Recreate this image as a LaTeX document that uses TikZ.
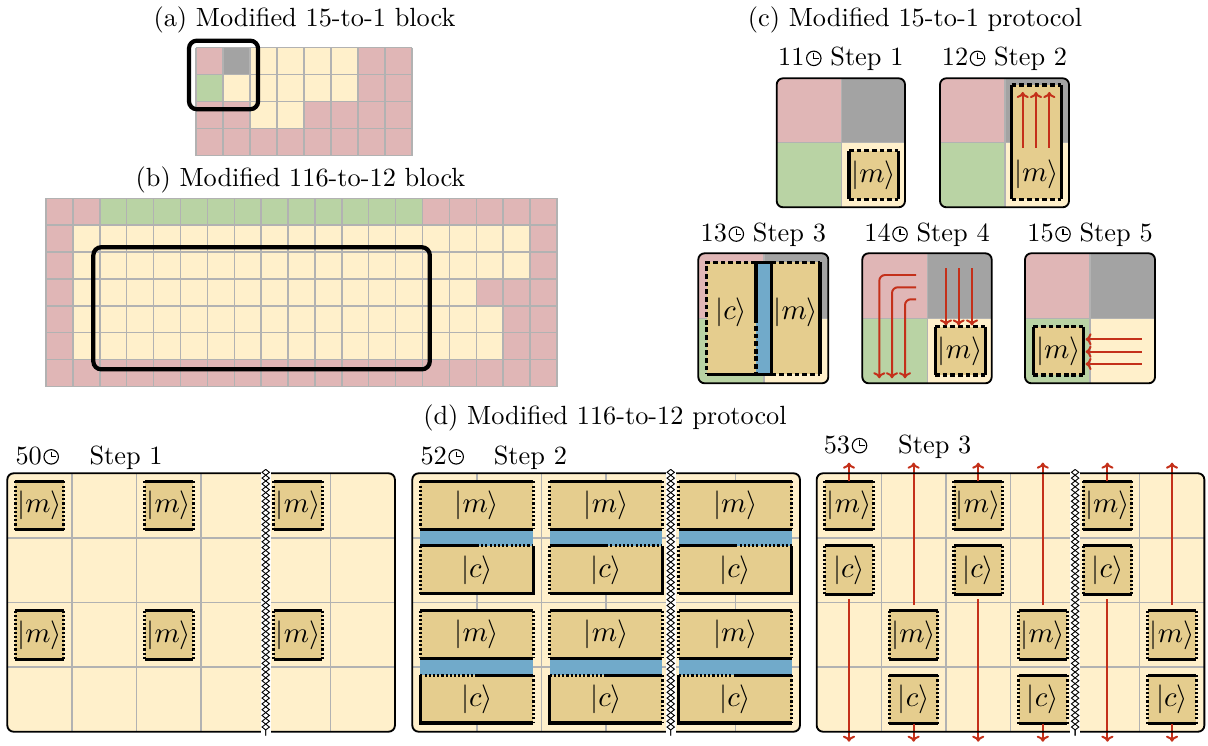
\documentclass[tikz,border=0pt]{standalone}
\usetikzlibrary{arrows.meta,decorations.pathmorphing}
\definecolor{pinkc}{RGB}{224,182,182}
\definecolor{grayc}{RGB}{163,163,163}
\definecolor{yelc}{RGB}{255,240,203}
\definecolor{greenc}{RGB}{185,211,164}
\definecolor{tanc}{RGB}{229,205,142}
\definecolor{bluec}{RGB}{113,170,202}
\definecolor{redc}{RGB}{196,48,26}
\definecolor{gridc}{RGB}{178,178,178}
\newcommand{\clk}{\tikz[baseline=0pt,x=1pt,y=1pt]{\draw[line width=0.42pt] (0pt,2.9pt) circle[radius=2.75pt]; \draw[line width=0.42pt] (0pt,4.9pt)--(0pt,2.9pt)--(1.95pt,2.9pt);}}
\newcommand{\quads}[6]{%
  \begin{scope}
  \clip[rounded corners=2.4pt] (#1,#2) rectangle (#3,#4);
  \fill[pinkc] (#1,#2) rectangle (#5,#6);
  \fill[grayc] (#5,#2) rectangle (#3,#6);
  \fill[greenc] (#1,#6) rectangle (#5,#4);
  \fill[yelc] (#5,#6) rectangle (#3,#4);
  \draw[gridl] (#5,#2)--(#5,#4) (#1,#6)--(#3,#6);
  \end{scope}}
\newcommand{\ckbox}[4]{%
  \fill[tanc] (#1,#2) rectangle (#3,#4);
  \draw[dedge] (#1,#2)--(#3,#2) (#1,#4)--(#3,#4);
  \draw[sedge] (#1,#2)--(#1,#4) (#3,#2)--(#3,#4);}
\newcommand{\dkbox}[4]{%
  \fill[tanc] (#1+0.125,#2+0.125) rectangle (#1+0.875,#2+0.875);
  \draw[sedge] (#1+0.125,#2+0.125)--(#1+0.875,#2+0.125) (#1+0.125,#2+0.875)--(#1+0.875,#2+0.875);
  \draw[oedge] (#1+0.125,#2+0.125)--(#1+0.125,#2+0.875) (#1+0.875,#2+0.125)--(#1+0.875,#2+0.875);
  \node[ket] (#4) at (#1+0.5,#2+0.5) {$|#3\rangle$};}
\newcommand{\grpcommon}[3]{%
  \fill[tanc] (#1+0.125,#2+0.125) rectangle (#1+1.87,#2+0.865);
  \fill[bluec] (#1+0.125,#2+0.865) rectangle (#1+1.87,#2+1.125);
  \fill[tanc] (#1+0.125,#2+1.125) rectangle (#1+1.87,#2+1.865);
  \draw[sedge] (#1+0.125,#2+0.125)--(#1+1.87,#2+0.125);
  \draw[oedge] (#1+0.125,#2+0.125)--(#1+0.125,#2+0.865) (#1+1.87,#2+0.125)--(#1+1.87,#2+0.865);
  \draw[sedge] (#1+0.125,#2+0.865)--(#1+1.87,#2+0.865);
  \node[ket] (#3m) at (#1+1,#2+0.495) {$|m\rangle$};
  \node[ket] (#3c) at (#1+1,#2+1.495) {$|c\rangle$};}
\newcommand{\grpT}[3]{%
  \grpcommon{#1}{#2}{#3}
  \draw[sedge] (#1+0.125,#2+1.125)--(#1+1,#2+1.125);
  \draw[oedge] (#1+1,#2+1.125)--(#1+1.87,#2+1.125);
  \draw[oedge] (#1+0.125,#2+1.125)--(#1+0.125,#2+1.865);
  \draw[sedge] (#1+1.87,#2+1.125)--(#1+1.87,#2+1.865)--(#1+0.125,#2+1.865);}
\newcommand{\grpB}[3]{%
  \grpcommon{#1}{#2}{#3}
  \draw[oedge] (#1+0.125,#2+1.125)--(#1+1,#2+1.125);
  \draw[sedge] (#1+1,#2+1.125)--(#1+1.87,#2+1.125);
  \draw[sedge] (#1+0.125,#2+1.125)--(#1+0.125,#2+1.865)--(#1+1.87,#2+1.865);
  \draw[oedge] (#1+1.87,#2+1.125)--(#1+1.87,#2+1.865);}
\newcommand{\panelbg}{%
  \fill[yelc,rounded corners=2.4pt] (0,0) rectangle (6,4);
  \foreach \i in {1,...,5} \draw[gridl] (\i,0)--(\i,4);
  \foreach \j in {1,2,3} \draw[gridl] (0,\j)--(6,\j);}
\newcommand{\brk}{%
  \fill[white] (3.925,-0.06) rectangle (4.075,4.06);
  \draw[zz] (4,-0.06)--(4,4.06);
  \draw[zz,decoration={mirror}] (4,-0.06)--(4,4.06);}
\begin{document}
\begin{tikzpicture}[x=0.38pt,y=-0.38pt,
  gridl/.style={draw=gridc,line width=0.55pt},
  frame/.style={draw=black,line width=0.7pt,rounded corners=2.4pt},
  bigbox/.style={draw=black,line width=1.6pt,rounded corners=3pt},
  sedge/.style={draw=black,line width=1.15pt},
  dedge/.style={draw=black,line width=1.15pt,dash pattern=on 1.8pt off 1.1pt},
  oedge/.style={draw=black,line width=1.15pt,dash pattern=on 0.8pt off 0.8pt},
  rarr/.style={draw=redc,line width=0.75pt,-{To[length=2.3pt,width=4.6pt]}},
  ket/.style={inner sep=0pt,font=\fontsize{11}{13}\selectfont},
  lbl/.style={inner sep=0pt},
  zz/.style={draw=black,line width=0.35pt,decorate,decoration={zigzag,segment length=4.4pt,amplitude=1.4pt}}]
\useasboundingbox (0,0) rectangle (1208,746);

% ---------- titles
\node[lbl,anchor=base] (ta) at (304.5,27) {(a) Modified 15-to-1 block};
\node[lbl,anchor=base] (tb) at (300.5,187) {(b) Modified 116-to-12 block};
\node[lbl,anchor=base] (tc) at (915,27) {(c) Modified 15-to-1 protocol};
\node[lbl,anchor=base] (td) at (605,425) {(d) Modified 116-to-12 protocol};

% ---------- (a) block
\begin{scope}[shift={(196,47.7)},x=10.26pt,y=-10.26pt]
  \fill[pinkc] (0,0) rectangle (8,4);
  \fill[grayc] (1,0) rectangle (2,1);
  \fill[greenc] (0,1) rectangle (1,2);
  \fill[yelc] (2,0) rectangle (6,1) (1,1) rectangle (6,2) (2,2) rectangle (4,3);
  \foreach \i in {0,...,8} \draw[gridl] (\i,0)--(\i,4);
  \foreach \j in {0,...,4} \draw[gridl] (0,\j)--(8,\j);
  \draw[bigbox] (-0.26,-0.26) rectangle (2.3,2.28);
\end{scope}

% ---------- (b) block
\begin{scope}[shift={(46,198.3)},x=10.22pt,y=-10.22pt]
  \fill[pinkc] (0,0) rectangle (19,7);
  \fill[greenc] (2,0) rectangle (14,1);
  \fill[yelc] (1,1) rectangle (18,3) (1,3) rectangle (16,4) (1,4) rectangle (17,6);
  \foreach \i in {0,...,19} \draw[gridl] (\i,0)--(\i,7);
  \foreach \j in {0,...,7} \draw[gridl] (0,\j)--(19,\j);
  \draw[bigbox] (1.76,1.82) rectangle (14.27,6.36);
\end{scope}

% ---------- (c) step 1
\quads{776.7}{78.3}{905}{207.3}{841.7}{142.7}
\ckbox{849}{150.7}{898.3}{199.3}
\node[ket] (c1m) at (873.7,175) {$|m\rangle$};
\draw[frame] (776.7,78.3) rectangle (905,207.3);
\node[lbl,anchor=base] (c1l) at (840.8,66) {11\kern0.6pt\clk\ Step 1};

% ---------- (c) step 2
\quads{940}{78.3}{1069}{207.3}{1005}{142.7}
\ckbox{1011.7}{85}{1061}{199.3}
\node[ket] (c2m) at (1036.3,174) {$|m\rangle$};
\draw[rarr] (1022.7,148)--(1022.7,92);
\draw[rarr] (1036,148)--(1036,92);
\draw[rarr] (1049.3,148)--(1049.3,92);
\draw[frame] (940,78.3) rectangle (1069,207.3);
\node[lbl,anchor=base] (c2l) at (1004.5,66) {12\kern0.6pt\clk\ Step 2};

% ---------- (c) step 3
\quads{698.3}{253.3}{828.3}{383.3}{764}{318.3}
\fill[tanc] (706.7,262.3) rectangle (756,374.3);
\fill[bluec] (756,262.3) rectangle (771.7,374.3);
\fill[tanc] (771.7,262.3) rectangle (820,374.3);
\draw[dedge] (756,262.3)--(706.7,262.3)--(706.7,374.3);
\draw[sedge] (706.7,374.3)--(771.7,374.3);
\draw[sedge] (756,318.3)--(756,262.3)--(771.7,262.3);
\draw[dedge] (756,318.3)--(756,374.3);
\draw[sedge] (771.7,262.3)--(771.7,374.3);
\draw[dedge] (771.7,262.3)--(820,262.3);
\draw[sedge] (820,262.3)--(820,374.3);
\draw[dedge] (771.7,374.3)--(820,374.3);
\node[ket] (c3c) at (731.3,312) {$|c\rangle$};
\node[ket] (c3m) at (795.8,312) {$|m\rangle$};
\draw[frame] (698.3,253.3) rectangle (828.3,383.3);
\node[lbl,anchor=base] (c3l) at (763.3,241.7) {13\kern0.6pt\clk\ Step 3};

% ---------- (c) step 4
\quads{862.3}{253.3}{991.7}{383.3}{927.7}{318.3}
\ckbox{935}{326.7}{985}{375}
\node[ket] (c4m) at (960,351) {$|m\rangle$};
\draw[rarr] (946,268.3)--(946,325.5);
\draw[rarr] (958.7,268.3)--(958.7,325.5);
\draw[rarr] (972,268.3)--(972,325.5);
\draw[rarr,rounded corners=2.2pt] (916,275)--(879.3,275)--(879.3,378.3);
\draw[rarr,rounded corners=2.2pt] (916,287.3)--(892,287.3)--(892,378.3);
\draw[rarr,rounded corners=2.2pt] (916,299.3)--(905,299.3)--(905,378.3);
\draw[frame] (862.3,253.3) rectangle (991.7,383.3);
\node[lbl,anchor=base] (c4l) at (927,241.7) {14\kern0.6pt\clk\ Step 4};

% ---------- (c) step 5
\quads{1025}{253.3}{1155}{383.3}{1090}{318.3}
\ckbox{1033.3}{326.7}{1083.3}{375}
\node[ket] (c5m) at (1058.3,351) {$|m\rangle$};
\draw[rarr] (1141.7,339.3)--(1085.5,339.3);
\draw[rarr] (1141.7,351.7)--(1085.5,351.7);
\draw[rarr] (1141.7,364)--(1085.5,364);
\draw[frame] (1025,253.3) rectangle (1155,383.3);
\node[lbl,anchor=base] (c5l) at (1090,241.7) {15\kern0.6pt\clk\ Step 5};

% ---------- (d) step 1
\begin{scope}[shift={(7.3,473.3)},x=24.55pt,y=-24.55pt]
  \panelbg
  \dkbox{0}{0}{m}{da1}
  \dkbox{2}{0}{m}{da2}
  \dkbox{4}{0}{m}{da3}
  \dkbox{0}{2}{m}{da4}
  \dkbox{2}{2}{m}{da5}
  \dkbox{4}{2}{m}{da6}
  \draw[frame] (0,0) rectangle (6,4);
  \brk
\end{scope}
\node[lbl,anchor=base west] (d1t) at (15,464.5) {50\kern0.6pt\clk};
\node[lbl,anchor=base west] (d1s) at (89,464.5) {Step 1};

% ---------- (d) step 2
\begin{scope}[shift={(412.3,473.3)},x=24.55pt,y=-24.55pt]
  \panelbg
  \grpT{0}{0}{g1}
  \grpT{2}{0}{g2}
  \grpT{4}{0}{g3}
  \grpB{0}{2}{g4}
  \grpB{2}{2}{g5}
  \grpB{4}{2}{g6}
  \draw[frame] (0,0) rectangle (6,4);
  \brk
\end{scope}
\node[lbl,anchor=base west] (d2t) at (420,464.5) {52\kern0.6pt\clk};
\node[lbl,anchor=base west] (d2s) at (493.3,464.5) {Step 2};

% ---------- (d) step 3
\begin{scope}[shift={(816.7,473.3)},x=24.55pt,y=-24.55pt]
  \panelbg
  \dkbox{0}{0}{m}{db1}
  \dkbox{0}{1}{c}{db2}
  \dkbox{1}{2}{m}{db3}
  \dkbox{1}{3}{c}{db4}
  \dkbox{2}{0}{m}{db5}
  \dkbox{2}{1}{c}{db6}
  \dkbox{3}{2}{m}{db7}
  \dkbox{3}{3}{c}{db8}
  \dkbox{4}{0}{m}{db9}
  \dkbox{4}{1}{c}{db10}
  \dkbox{5}{2}{m}{db11}
  \dkbox{5}{3}{c}{db12}
  \foreach \k in {0,2,4} {
    \draw[rarr] (\k+0.5,0.125)--(\k+0.5,-0.165);
    \draw[rarr] (\k+0.5,1.95)--(\k+0.5,4.155);
  }
  \foreach \k in {1,3,5} {
    \draw[rarr] (\k+0.5,2.04)--(\k+0.5,-0.165);
    \draw[rarr] (\k+0.5,3.875)--(\k+0.5,4.155);
  }
  \draw[frame] (0,0) rectangle (6,4);
  \brk
\end{scope}
\node[lbl,anchor=base west] (d3t) at (823.3,453.3) {53\kern0.6pt\clk};
\node[lbl,anchor=base west] (d3s) at (897.7,453.3) {Step 3};
\end{tikzpicture}
\end{document}
